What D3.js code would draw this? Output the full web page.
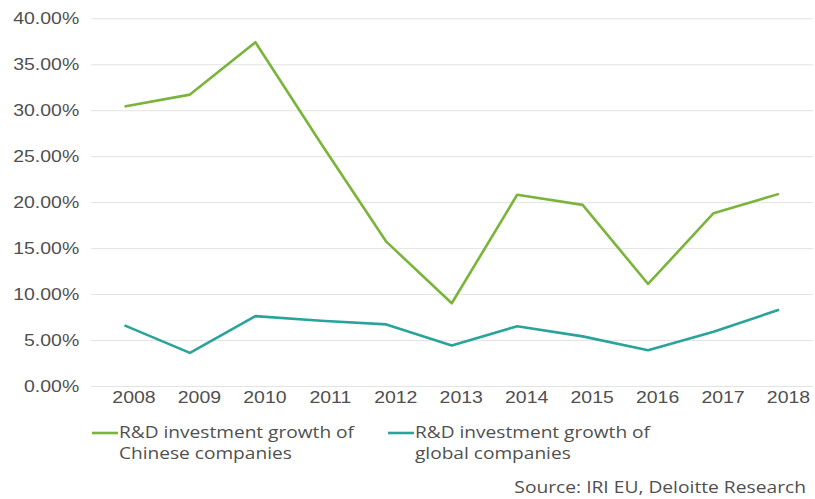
<!DOCTYPE html>
<html>
<head>
<meta charset="utf-8">
<script src="https://cdn.jsdelivr.net/npm/d3@7"></script>
<style>
  html, body { margin: 0; padding: 0; background: #fff; }
  svg { display: block; font-family: "Open Sans", sans-serif; }
</style>
</head>
<body>
<svg id="chart" width="815" height="499"></svg>
<script>
// Annual R&D investment growth, 2008-2018
const years = ["2008","2009","2010","2011","2012","2013","2014","2015","2016","2017","2018"];
const chineseGrowth = [0.304, 0.317, 0.374, 0.264, 0.157, 0.090, 0.208, 0.197, 0.111, 0.188, 0.209];
const globalGrowth  = [0.066, 0.036, 0.076, 0.071, 0.067, 0.044, 0.065, 0.054, 0.039, 0.059, 0.083];
const yTicks = [0, 0.05, 0.10, 0.15, 0.20, 0.25, 0.30, 0.35, 0.40];
const seriesNames = ["R&D investment growth of\nChinese companies", "R&D investment growth of\nglobal companies"];
const sourceNote = "Source: IRI EU, Deloitte Research";

const series = [
  { name: seriesNames[0], values: chineseGrowth, color: "#7ab43a" },
  { name: seriesNames[1], values: globalGrowth,  color: "#2aa39b" }
];

const svg = d3.select("#chart");
const plot = { left: 91, right: 813, top: 18.3, bottom: 386 };
const textStretch = "scale(1.18,1)";
const textColor = "#505050";

const x = d3.scalePoint().domain(years).range([124.5, 779]);
const y = d3.scaleLinear().domain([0, 0.4]).range([plot.bottom, plot.top]);

// Horizontal grid and y-axis labels
const yAxis = svg.append("g")
  .attr("transform", `translate(${plot.left},0)`)
  .call(d3.axisLeft(y)
    .tickValues(yTicks)
    .tickFormat(d3.format(".2%"))
    .tickSize(-(plot.right - plot.left))
    .tickPadding(10));
yAxis.select(".domain").remove();
yAxis.selectAll(".tick line").attr("stroke", "#e3e3e3").attr("stroke-width", 1);
yAxis.selectAll(".tick text")
  .attr("fill", textColor)
  .attr("font-size", 16.5)
  .attr("transform", textStretch);

// Year labels
const xAxis = svg.append("g")
  .attr("transform", `translate(0,${plot.bottom})`)
  .call(d3.axisBottom(x).tickSize(0).tickPadding(5));
xAxis.select(".domain").remove();
xAxis.selectAll(".tick text")
  .attr("fill", textColor)
  .attr("font-size", 16.5)
  .attr("transform", `translate(9,0) ${textStretch}`);

// Series lines
const line = d3.line()
  .x((d, i) => x(years[i]))
  .y(d => y(d));

svg.append("g").selectAll("path")
  .data(series)
  .join("path")
  .attr("d", d => line(d.values))
  .attr("fill", "none")
  .attr("stroke", d => d.color)
  .attr("stroke-width", 2.6)
  .attr("stroke-linejoin", "round");

// Legend
const legend = svg.append("g").selectAll("g")
  .data(series)
  .join("g")
  .attr("transform", (d, i) => `translate(${[92, 388][i]},433)`);

legend.append("line")
  .attr("x1", 0).attr("x2", 26)
  .attr("stroke", d => d.color)
  .attr("stroke-width", 2.6);

legend.append("text")
  .attr("transform", `translate(27,0) ${textStretch}`)
  .attr("fill", textColor)
  .attr("font-size", 16.2)
  .selectAll("tspan")
  .data(d => d.name.split("\n"))
  .join("tspan")
  .attr("x", 0)
  .attr("y", (d, i) => 4.5 + i * 21.3)
  .text(d => d);

// Source note
svg.append("text")
  .attr("transform", `translate(806,493) ${textStretch}`)
  .attr("text-anchor", "end")
  .attr("fill", textColor)
  .attr("font-size", 16.3)
  .text(sourceNote);
</script>
</body>
</html>
